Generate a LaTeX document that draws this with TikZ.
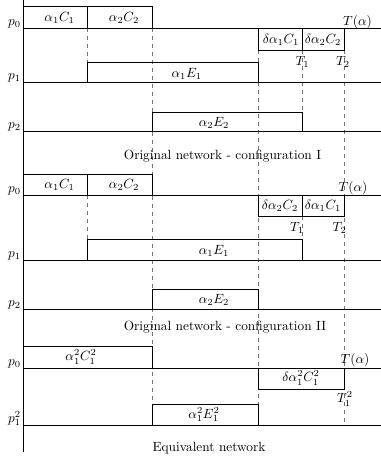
\documentclass[tikz,border=0pt]{standalone}
\begin{document}
\begin{tikzpicture}[x=0.75pt,y=-0.75pt,
  lane/.style={line width=0.6pt},
  blk/.style={draw, line width=0.6pt},
  guide/.style={dashed, draw=black!55, line width=0.5pt},
  lbl/.style={inner sep=0pt},
  plbl/.style={inner sep=0pt, anchor=base east},
  captxt/.style={inner sep=0pt}]
\useasboundingbox (0,0) rectangle (381,461);
% dashed guides
\draw[guide] (87,28) -- (87,62);
\draw[guide] (152,28) -- (152,404);
\draw[guide] (258,50) -- (258,425);
\draw[guide] (344,50) -- (344,425);
\draw[guide] (302,50) -- (302,112);
\draw[guide] (87,195) -- (87,239);
\draw[guide] (302,216) -- (302,239);
% axis
\draw[lane] (23,0) -- (23,452);
% lanes
\foreach \yy in {28,82,131,195,260,309,368,425}
  \draw[lane] (23,\yy) -- (381,\yy);
% ---- section 1
\draw[blk] (23,6) rectangle (87,28);
\draw[blk] (87,6) rectangle (152,28);
\draw[blk] (258,28) rectangle (302,50);
\draw[blk] (302,28) rectangle (344,50);
\draw[blk] (87,62) rectangle (258,82);
\draw[blk] (152,112) rectangle (302,131);
\node[lbl] (a1) at (59.5,18) {$\alpha_1C_1$};
\node[lbl] (a2) at (124,18) {$\alpha_2C_2$};
\node[lbl] (d1) at (281,39.5) {$\delta\alpha_1C_1$};
\node[lbl] (d2) at (323,39.5) {$\delta\alpha_2C_2$};
\node[lbl] (ta) at (357.5,22) {$T(\alpha)$};
\node[lbl] (t1) at (302.5,61.5) {$T_1$};
\node[lbl] (t2) at (343,62) {$T_2$};
\node[lbl] (e1) at (186.7,74) {$\alpha_1E_1$};
\node[lbl] (e2) at (214,123) {$\alpha_2E_2$};
\node[plbl] (p0a) at (21,25.5) {$p_0$};
\node[plbl] (p1a) at (21,79.5) {$p_1$};
\node[plbl] (p2a) at (21,128.5) {$p_2$};
\node[captxt] (c1) at (222.5,156) {Original network - configuration I};
% ---- section 2
\draw[blk] (23,174) rectangle (87,195);
\draw[blk] (87,174) rectangle (152,195);
\draw[blk] (258,195) rectangle (302,216);
\draw[blk] (302,195) rectangle (344,216);
\draw[blk] (87,239) rectangle (302,260);
\draw[blk] (152,289) rectangle (258,309);
\node[lbl] (b1) at (59.5,185) {$\alpha_1C_1$};
\node[lbl] (b2) at (124,185) {$\alpha_2C_2$};
\node[lbl] (f1) at (280,206) {$\delta\alpha_2C_2$};
\node[lbl] (f2) at (323,206) {$\delta\alpha_1C_1$};
\node[lbl] (tb) at (353,188) {$T(\alpha)$};
\node[lbl] (s1) at (297,228) {$T_1$};
\node[lbl] (s2) at (339.6,228) {$T_2$};
\node[lbl] (g1) at (214,251) {$\alpha_1E_1$};
\node[lbl] (g2) at (214,299.5) {$\alpha_2E_2$};
\node[plbl] (p0b) at (21,192.5) {$p_0$};
\node[plbl] (p1b) at (21,257.5) {$p_1$};
\node[plbl] (p2b) at (21,306.5) {$p_2$};
\node[captxt] (c2) at (225,327.5) {Original network - configuration II};
% ---- section 3
\draw[blk] (23,346) rectangle (152,368);
\draw[blk] (258,368) rectangle (344,389);
\draw[blk] (152,404) rectangle (258,425);
\node[lbl] (h1) at (81,357) {$\alpha_1^2C_1^2$};
\node[lbl] (h2) at (301,378) {$\delta\alpha_1^2C_1^2$};
\node[lbl] (tc) at (355,360) {$T(\alpha)$};
\node[lbl] (u1) at (345,399) {$T_1^2$};
\node[lbl] (k1) at (204,414.5) {$\alpha_1^2E_1^2$};
\node[plbl] (p0c) at (21,365.5) {$p_0$};
\node[plbl] (p1c) at (21,422.5) {$p_1^2$};
\node[captxt] (c3) at (209,448) {Equivalent network};
\end{tikzpicture}
\end{document}
